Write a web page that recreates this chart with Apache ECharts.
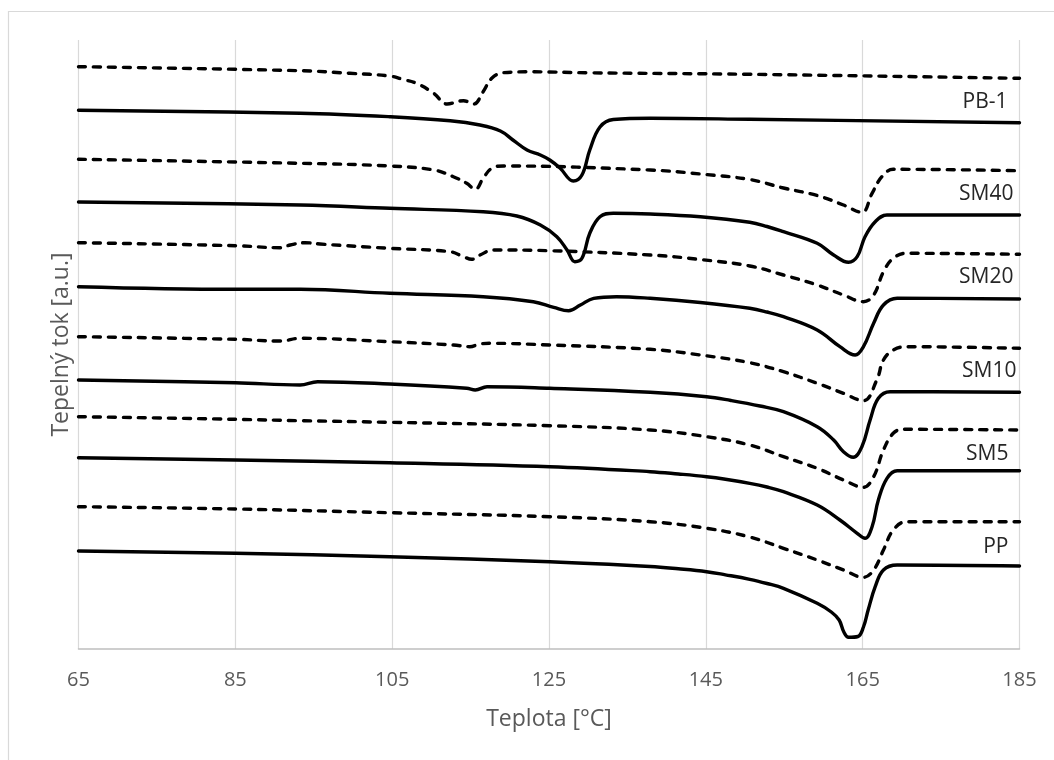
<!DOCTYPE html>
<html>
<head>
<meta charset="utf-8">
<title>DSC křivky</title>
<script src="https://cdn.jsdelivr.net/npm/echarts/dist/echarts.min.js"></script>
<style>
  html, body { margin: 0; padding: 0; background: #ffffff; }
  #chart { width: 1054px; height: 760px; }
</style>
</head>
<body>
<div id="chart"></div>
<script>
// Temperature axis (°C)
const X_START = 65;
const X_END = 185;
const X_STEP = 20;

// Sample names, top to bottom
const sampleNames = ['PB-1', 'SM40', 'SM20', 'SM10', 'SM5', 'PP'];

// Curves: [temperature °C, heat flow a.u.]; dashed = cooling, solid = heating
const pb1Cool = [[65,58.23],[93.3,57.83],[99.6,57.57],[104.7,57.3],[106.4,56.95],[108.1,56.57],[110.3,55.57],[112.0,54.5],[114.1,54.83],[115.4,54.5],[116.6,55.73],[117.7,57.07],[119.2,57.63],[123,57.72],[130,57.62],[150.6,57.47],[185,57.07]];
const pb1Heat = [[65,53.87],[93.3,53.57],[104.7,53.23],[112.4,52.83],[116.2,52.4],[118.8,51.8],[120.4,50.9],[122.2,49.9],[123.9,49.4],[125.1,48.9],[126.4,48.1],[128.1,46.8],[129.2,47.4],[130.2,49.9],[131.5,52.2],[133.2,52.95],[137.9,53.07],[150.6,52.97],[185,52.63]];

const sm40Cool = [[65,48.97],[93.3,48.57],[104.7,48.3],[110.3,47.9],[112.8,47.23],[114.5,46.57],[115.6,45.97],[116.6,47.07],[117.7,48.07],[119.2,48.3],[137.9,47.9],[144.3,47.5],[150.6,46.95],[154.9,46.1],[159.2,45.35],[162.55,44.4],[164.9,43.67],[166.2,45.57],[167.45,47.23],[168.9,47.97],[185,47.83]];
const sm40Heat = [[65,44.7],[93.3,44.4],[104.7,44.07],[116.6,43.73],[120.9,43.3],[123.9,42.4],[126.0,41.23],[127.3,39.9],[128.3,38.73],[129.2,39.07],[130.2,41.57],[131.5,43.23],[133.2,43.57],[137.9,43.5],[144.3,43.22],[150.6,42.67],[152.8,42.25],[154.9,41.73],[159.2,40.57],[161.3,39.4],[163.2,38.67],[164.3,39.23],[165.3,41.23],[166.6,42.73],[168.1,43.4],[185,43.4]];

const sm20Cool = [[65,40.63],[85,40.33],[90.7,40.13],[92.0,40.4],[93.9,40.63],[95.8,40.5],[104.7,40.07],[112.4,39.73],[114.1,39.23],[115.15,38.97],[116.2,39.4],[117.9,39.9],[125.1,39.83],[137.9,39.4],[144.3,38.95],[150.6,38.3],[154.9,37.4],[159.2,36.4],[162.55,35.4],[165.1,34.73],[166.4,35.4],[167.65,37.73],[168.9,39.07],[170.6,39.57],[185,39.47]];
const sm20Heat = [[65,36.23],[85,35.97],[93.3,35.97],[104.7,35.57],[116.6,35.23],[123.0,34.73],[125.6,34.17],[127.5,33.83],[129.0,34.4],[130.7,35.07],[133.6,35.23],[137.9,35.07],[144.3,34.65],[150.6,34.07],[152.8,33.7],[154.9,33.23],[159.2,31.9],[162.1,30.23],[164.05,29.4],[165.1,30.23],[166.4,32.57],[167.65,34.4],[169.4,35.07],[185,35.0]];

const sm10Cool = [[65,31.23],[85,30.97],[90.7,30.8],[93.3,31.07],[104.7,30.73],[112.8,30.4],[114.9,30.23],[116.2,30.5],[117.5,30.57],[125.1,30.4],[137.9,29.97],[144.3,29.4],[150.6,28.63],[154.9,27.73],[159.2,26.57],[162.55,25.57],[165.1,24.83],[166.8,26.9],[167.65,28.9],[168.9,29.9],[170.6,30.23],[185,30.07]];
const sm10Heat = [[65,26.9],[85,26.63],[93.25,26.4],[95.5,26.73],[104.7,26.5],[114.5,26.07],[115.6,25.9],[117.1,26.23],[125.1,26.07],[137.9,25.67],[145.1,25.23],[148.2,24.85],[151.9,24.3],[154.9,23.73],[159.2,22.23],[161.3,20.9],[162.55,19.73],[163.8,19.17],[164.9,20.23],[165.95,22.9],[167.0,25.07],[168.5,25.73],[185,25.67]];

const sm5Cool = [[65,23.23],[85,22.97],[93.3,22.83],[104.7,22.67],[125.1,22.33],[137.9,21.9],[145.1,21.23],[150.6,20.4],[154.9,19.23],[159.2,18.07],[162.55,16.9],[165.1,16.17],[166.4,17.23],[167.65,19.9],[168.9,21.57],[170.2,21.97],[185,21.9]];
const sm5Heat = [[65,19.13],[85,18.9],[104.7,18.63],[125.1,18.23],[137.9,17.73],[141.5,17.5],[145.1,17.23],[147.5,16.98],[150.6,16.57],[152.8,16.2],[154.9,15.73],[159.2,14.4],[162.1,12.9],[164.3,11.57],[165.3,11.07],[166.2,12.23],[167.0,14.9],[168.1,17.07],[169.4,17.83],[185,17.83]];

const ppCool = [[65,14.23],[85,14.0],[104.7,13.63],[125.1,13.23],[137.9,12.73],[145.1,12.07],[150.6,11.2],[154.9,10.07],[159.2,8.9],[162.55,7.9],[165.1,7.17],[166.4,7.9],[167.65,9.9],[168.9,11.9],[170.6,12.73],[185,12.73]];
const ppHeat = [[65,9.8],[85,9.57],[104.7,9.23],[125.1,8.73],[137.9,8.25],[141.5,8.02],[145.1,7.73],[147.5,7.42],[150.6,6.97],[152.8,6.55],[154.9,6.07],[159.2,4.57],[161.0,3.7],[162.0,2.9],[162.6,1.7],[163.2,1.17],[164.4,1.25],[165.1,2.2],[165.7,3.9],[166.6,6.23],[167.65,7.9],[169.4,8.4],[185,8.3]];

const Y_MAX = 60.9;

const samples = [
  { name: sampleNames[0], cool: pb1Cool, heat: pb1Heat, dx: -12, dy: -21 },
  { name: sampleNames[1], cool: sm40Cool, heat: sm40Heat, dx: -6, dy: -21 },
  { name: sampleNames[2], cool: sm20Cool, heat: sm20Heat, dx: -6, dy: -22 },
  { name: sampleNames[3], cool: sm10Cool, heat: sm10Heat, dx: -3, dy: -21 },
  { name: sampleNames[4], cool: sm5Cool, heat: sm5Heat, dx: -11, dy: -17 },
  { name: sampleNames[5], cool: ppCool, heat: ppHeat, dx: -11, dy: -19 }
];

const FONT = '"Open Sans", "Noto Sans", sans-serif';

// The x axis runs from 0 so its 20-degree ticks line up with 65, 85, ... 185
function toAxis(points) {
  return points.map(p => [p[0] - X_START, p[1]]);
}

function curve(name, points, dashed) {
  return {
    name: name,
    type: 'line',
    data: toAxis(points),
    showSymbol: false,
    symbol: 'none',
    smooth: 0.4,
    silent: true,
    animation: false,
    lineStyle: {
      color: '#000000',
      width: 3.4,
      type: dashed ? [7, 8] : 'solid',
      cap: 'round',
      join: 'round'
    }
  };
}

const series = [];
samples.forEach(s => {
  series.push(curve(s.name + ' chlazení', s.cool, true));
  series.push(curve(s.name + ' ohřev', s.heat, false));
});

const option = {
  backgroundColor: '#ffffff',
  animation: false,
  grid: { left: 78.5, top: 40, width: 941, height: 609, containLabel: false },
  xAxis: {
    type: 'value',
    min: 0,
    max: X_END - X_START,
    interval: X_STEP,
    name: 'Teplota [°C]',
    nameLocation: 'middle',
    nameGap: 59,
    nameTextStyle: { color: '#595959', fontSize: 23, fontFamily: FONT },
    axisLine: { show: true, lineStyle: { color: '#bfbfbf', width: 1.5 } },
    axisTick: { show: false },
    axisLabel: {
      color: '#595959',
      fontSize: 20,
      fontFamily: FONT,
      margin: 21,
      formatter: v => String(v + X_START)
    },
    splitLine: { show: true, lineStyle: { color: '#d9d9d9', width: 1.2 } }
  },
  yAxis: {
    type: 'value',
    min: 0,
    max: Y_MAX,
    name: 'Tepelný tok [a.u.]',
    nameLocation: 'middle',
    nameGap: 6,
    nameTextStyle: { color: '#595959', fontSize: 23, fontFamily: FONT },
    axisLine: { show: false },
    axisTick: { show: false },
    axisLabel: { show: false },
    splitLine: { show: false }
  },
  series: series
};

const chart = echarts.init(document.getElementById('chart'), null, { renderer: 'canvas' });
chart.setOption(option);

// Chart-area frame and sample names placed just above each heating curve's end
const graphics = [{
  type: 'rect',
  silent: true,
  shape: { x: 8.5, y: 11.5, width: 1100, height: 800 },
  style: { fill: 'none', stroke: '#d9d9d9', lineWidth: 1.2 }
}];
samples.forEach(s => {
  const last = s.heat[s.heat.length - 1];
  const pt = chart.convertToPixel({ gridIndex: 0 }, [last[0] - X_START, last[1]]);
  graphics.push({
    type: 'text',
    silent: true,
    x: pt[0] + s.dx,
    y: pt[1] + s.dy,
    style: {
      text: s.name,
      fill: '#262626',
      fontSize: 21,
      fontFamily: FONT,
      align: 'right',
      verticalAlign: 'middle'
    }
  });
});
chart.setOption({ graphic: graphics });
</script>
</body>
</html>
